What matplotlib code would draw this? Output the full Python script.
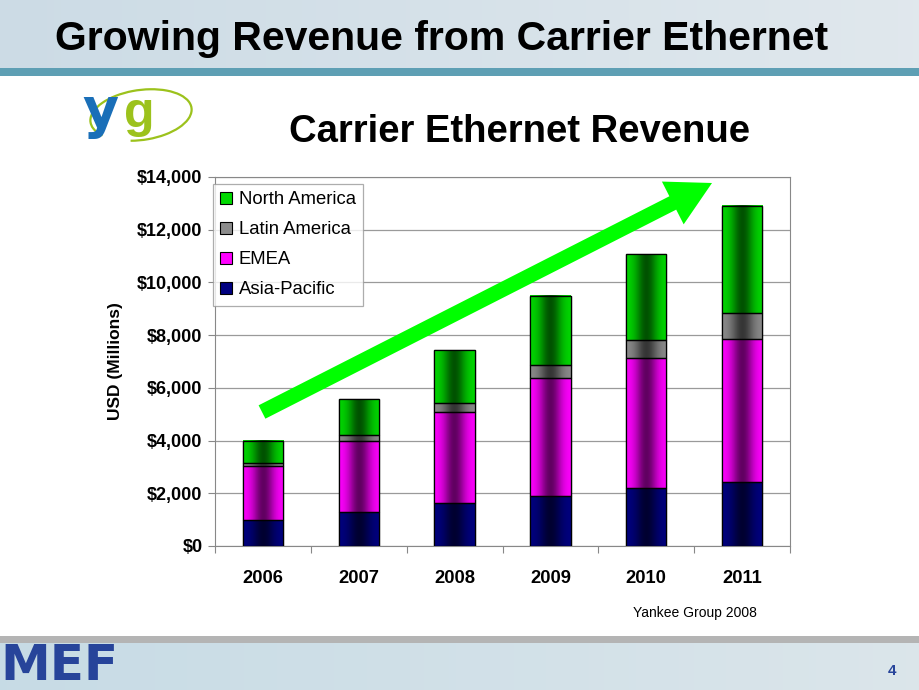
import numpy as np
import matplotlib
matplotlib.use('Agg')
import matplotlib.pyplot as plt
from matplotlib.patches import Patch, FancyArrow, Arc, Rectangle
from matplotlib.ticker import FuncFormatter

plt.rcParams['font.family'] = ['Liberation Sans', 'DejaVu Sans']

# data (USD millions)
years = ['2006', '2007', '2008', '2009', '2010', '2011']
asia_pacific = [990, 1280, 1620, 1900, 2190, 2440]
emea = [2060, 2710, 3480, 4470, 4960, 5420]
latin_america = [90, 230, 340, 480, 670, 980]
north_america = [850, 1360, 2000, 2640, 3260, 4070]

series = [
    ('Asia-Pacific', asia_pacific, (0.0, 0.0, 0.5)),
    ('EMEA', emea, (1.0, 0.0, 1.0)),
    ('Latin America', latin_america, (0.55, 0.55, 0.55)),
    ('North America', north_america, (0.0, 0.85, 0.0)),
]

fig = plt.figure(figsize=(9.2, 6.9), dpi=100)

# slide background: header band and footer band
bg = fig.add_axes([0, 0, 1, 1])
bg.axis('off')
grad = np.linspace(0, 1, 256)[None, :]
head = np.dstack([0.80 + 0.08 * grad, 0.86 + 0.05 * grad, 0.90 + 0.03 * grad])
bg.imshow(head, extent=[0, 920, 68, 0], aspect='auto')
bg.add_patch(Rectangle((0, 68), 920, 8, color='#5e9fb4', lw=0))
bg.imshow(np.dstack([0.78 + 0.08 * grad, 0.86 + 0.04 * grad, 0.90 + 0.02 * grad]),
          extent=[0, 920, 690, 642], aspect='auto')
bg.add_patch(Rectangle((0, 636), 920, 7, color='#b4b4b4', lw=0))
bg.set_xlim(0, 920)
bg.set_ylim(690, 0)

bg.text(55, 39, 'Growing Revenue from Carrier Ethernet', fontsize=29.5, fontweight='bold',
        va='center', ha='left', color='black')
bg.text(520, 132, 'Carrier Ethernet Revenue', fontsize=27.5, fontweight='bold',
        va='center', ha='center', color='black')
bg.text(695, 613, 'Yankee Group 2008', fontsize=10, va='center', ha='center')
bg.text(0, 680, 'MEF', fontsize=36, fontweight='bold', color='#27449a',
        va='baseline', ha='left', family='DejaVu Sans')
bg.text(892, 671, '4', fontsize=11, fontweight='bold', color='#27449a', va='center', ha='center')

# yg logo
bg.add_patch(Arc((141, 115), 102, 50, angle=-8, theta1=-200, theta2=120,
                 color='#9cc21c', lw=1.6))
bg.text(82, 127, 'y', fontsize=40, fontweight='bold', color='#1a6fb8',
        va='baseline', ha='left', family='DejaVu Sans')
bg.text(124, 127, 'g', fontsize=36, fontweight='bold', color='#9cc21c',
        va='baseline', ha='left')

# chart
ax = fig.add_axes([0.2337, 0.2087, 0.625, 0.5348])
x = np.arange(len(years))
width = 0.42
bottom = np.zeros(len(years))
t = np.linspace(0, 1, 64)
shade = 1 - 0.62 * np.exp(-((t - 0.5) / 0.27) ** 2)
for name, vals, col in series:
    vals = np.array(vals, dtype=float)
    ax.bar(x, vals, width, bottom=bottom, color=col, edgecolor='black', lw=0.9, zorder=3)
    img = np.dstack([np.clip(c * shade, 0, 1) for c in col]).reshape(1, 64, 3)
    for xi, b, v in zip(x, bottom, vals):
        ax.imshow(img, extent=[xi - width / 2, xi + width / 2, b, b + v],
                  aspect='auto', zorder=3.5, interpolation='bilinear')
        ax.add_patch(Rectangle((xi - width / 2, b), width, v, fill=False,
                               edgecolor='black', lw=0.9, zorder=4))
    bottom += vals

ax.set_xlim(-0.5, len(years) - 0.5)
ax.set_ylim(0, 14000)
ax.set_aspect('auto')
ax.set_yticks(np.arange(0, 14001, 2000))
ax.yaxis.set_major_formatter(FuncFormatter(lambda v, p: '${:,.0f}'.format(v)))
ax.set_xticks(np.arange(-0.5, len(years), 1))
ax.set_xticklabels([])
ax.set_xticks(x, minor=True)
ax.set_xticklabels(years, minor=True)
ax.tick_params(axis='x', which='minor', length=0, pad=17, labelsize=13.2)
ax.tick_params(axis='x', which='major', length=5, color='#888888')
ax.tick_params(axis='y', length=5, color='#888888', labelsize=13, pad=4)
for lab in ax.get_xticklabels(minor=True) + ax.get_yticklabels():
    lab.set_fontweight('bold')
ax.grid(axis='y', color='#9a9a9a', lw=0.9, zorder=0)
ax.set_axisbelow(True)
for s in ax.spines.values():
    s.set_color('#888888')
ax.set_ylabel('USD (Millions)', fontsize=12.5, fontweight='bold', labelpad=10)

handles = [Patch(facecolor=col, edgecolor='black', lw=0.8) for _, _, col in series][::-1]
labels = [name for name, _, _ in series][::-1]
leg = ax.legend(handles, labels, loc='upper left', bbox_to_anchor=(-0.0035, 0.981),
                fontsize=13.3, frameon=True, fancybox=False, borderpad=0.4,
                labelspacing=0.7, handlelength=0.65, handleheight=0.65,
                handletextpad=0.35, borderaxespad=0)
leg.get_frame().set_edgecolor('#999999')
leg.get_frame().set_linewidth(0.9)
leg.set_zorder(6)

# growth arrow on a transparent overlay in slide pixels
top = fig.add_axes([0, 0, 1, 1])
top.set_xlim(0, 920)
top.set_ylim(690, 0)
top.axis('off')
tail_x, tail_y, tip_x, tip_y = 262, 412, 712, 183
top.add_patch(FancyArrow(tail_x, tail_y, tip_x - tail_x, tip_y - tail_y, width=15,
                         head_width=48, head_length=44, length_includes_head=True,
                         color='#00ff00', lw=0))

fig.savefig('out.png', dpi=100)
